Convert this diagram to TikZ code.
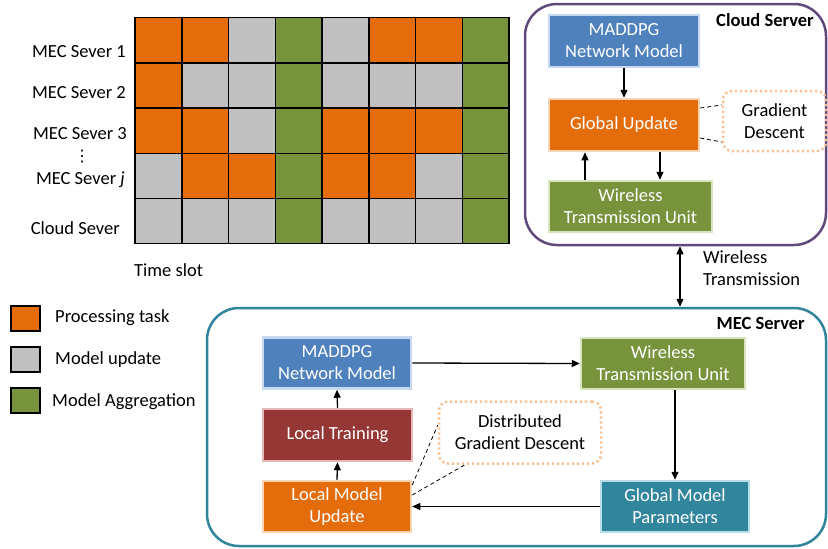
\documentclass[tikz,border=0pt]{standalone}
\usepackage{fontspec}
\setmainfont{Carlito}
\newfontfamily\dvfont{DejaVu Sans}
\usetikzlibrary{arrows.meta}
\definecolor{cO}{HTML}{E46C0A}
\definecolor{cG}{HTML}{C0C0C0}
\definecolor{cV}{HTML}{77933C}
\definecolor{orngl}{HTML}{FCD5B5}
\definecolor{grnl}{HTML}{D7E4BD}
\definecolor{blu}{HTML}{4F81BD}
\definecolor{blul}{HTML}{C6D9F1}
\definecolor{dred}{HTML}{953735}
\definecolor{dredl}{HTML}{E6B9B8}
\definecolor{tealc}{HTML}{31859C}
\definecolor{teall}{HTML}{B7DEE8}
\definecolor{purp}{HTML}{604A7B}
\definecolor{mecb}{HTML}{31849B}
\definecolor{dotc}{HTML}{FAC090}
\tikzset{
  box/.style 2 args={fill=#1, draw=#2, line width=2.5pt, text=white, align=center, inner sep=0pt},
  outerbox/.style={draw=#1, line width=2.5pt, rounded corners=32pt, inner sep=0pt},
  dotbox/.style={draw=dotc, line width=2.5pt, dash pattern=on 2.2pt off 2.8pt, rounded corners=9pt, align=center, inner sep=0pt, text=black},
  arr/.style={-{Triangle[length=8pt,width=7pt]}, line width=1.3pt},
  biarr/.style={{Triangle[length=8pt,width=7pt]}-{Triangle[length=8pt,width=7pt]}, line width=1.3pt},
  dashln/.style={line width=0.8pt, dash pattern=on 4pt off 3pt},
  lbl/.style={text height=13pt, text depth=4pt, inner sep=0pt},
  legsq/.style={draw=black, line width=1.2pt, minimum width=29pt, minimum height=25pt, inner sep=0pt},
  ttl/.style={font=\fontsize{18.5}{22}\selectfont\bfseries, inner sep=0pt, text height=13pt, text depth=4pt}
}
\begin{document}
\begin{tikzpicture}[x=1pt,y=-1pt, font=\fontsize{18.5}{22}\selectfont]
\useasboundingbox (0,0) rectangle (828,549);

% ---------- time-slot grid ----------
\foreach \row [count=\r from 0] in {{O,O,G,V,G,O,O,V},{O,G,G,V,G,G,G,V},{O,O,G,V,O,O,O,V},{G,O,O,V,O,O,G,V},{G,G,G,V,G,G,G,V}}{
  \foreach \c [count=\k from 0] in \row {
    \filldraw[fill=c\c, draw=black, line width=1.5pt] ({135+\k*46.75},{17.7+\r*45.2}) rectangle ({135+(\k+1)*46.75},{17.7+(\r+1)*45.2});
  }
}
\node[lbl, anchor=east] (l1) at (126,53) {MEC Sever 1};
\node[lbl, anchor=east] (l2) at (126,94) {MEC Sever 2};
\node[lbl, anchor=east] (l3) at (127,135) {MEC Sever 3};
\node[inner sep=0pt, font=\dvfont\fontsize{16}{16}\selectfont] (ldots) at (82,157) {⋮};
\node[lbl, anchor=east] (lj) at (125,180) {MEC Sever \textit{j}};
\node[lbl, anchor=east] (lc) at (120,230) {Cloud Sever};
\node[lbl, anchor=west] (ts) at (134,272) {Time slot};

% ---------- legend ----------
\node[legsq, fill=cO] (lg1) at (25.5,318.5) {};
\node[legsq, fill=cG] (lg2) at (25.5,359.5) {};
\node[legsq, fill=cV] (lg3) at (25.5,400.5) {};
\node[lbl, anchor=west] (lt1) at (55,318) {Processing task};
\node[lbl, anchor=west] (lt2) at (55,360) {Model update};
\node[lbl, anchor=west] (lt3) at (52,402) {Model Aggregation};

% ---------- cloud server ----------
\node[outerbox=purp, minimum width=301pt, minimum height=241pt] (cloud) at (675.5,124.5) {};
\node[ttl, anchor=east] (ctitle) at (814,22) {Cloud Server};
\node[box={blu}{blul}, minimum width=150pt, minimum height=52pt] (cmad) at (624,41) {MADDPG\\Network Model};
\node[box={cO}{orngl}, minimum width=150pt, minimum height=52pt] (cglob) at (624,125) {Global Update};
\node[box={cV}{grnl}, minimum width=163pt, minimum height=51pt] (cwtu) at (630.5,206.5) {Wireless\\Transmission Unit};
\node[dotbox, minimum width=103pt, minimum height=60pt] (cgd) at (774.5,121) {Gradient\\Descent};
\draw[arr] (cmad.south) -- (cglob.north);
\draw[arr] ([xshift=-45.5pt]cwtu.north) -- ([xshift=-39pt]cglob.south);
\draw[arr] ([xshift=36pt]cglob.south) -- ([xshift=29.5pt]cwtu.north);
\draw[dashln] ([yshift=17pt]cglob.east) -- ([yshift=16pt]cgd.west);
\draw[dashln] ([yshift=-13pt]cglob.east) -- ([yshift=-21pt]cgd.west);

% ---------- wireless link ----------
\node[outerbox=mecb, minimum width=619pt, minimum height=238pt] (mec) at (516.5,427) {};
\draw[biarr] ([xshift=4.5pt]cloud.south) -- ([xshift=163.5pt]mec.north);
\node[anchor=west, align=left, inner sep=0pt] (wt) at (703,268) {Wireless\\Transmission};

% ---------- MEC server ----------
\node[ttl, anchor=east] (mtitle) at (805,325) {MEC Server};
\node[box={blu}{blul}, minimum width=148pt, minimum height=51pt] (mmad) at (337,363) {MADDPG\\Network Model};
\node[box={cV}{grnl}, minimum width=164pt, minimum height=51pt] (mwtu) at (663,363.5) {Wireless\\Transmission Unit};
\node[box={dred}{dredl}, minimum width=149pt, minimum height=52pt] (mlt) at (337.5,435) {Local Training};
\node[box={cO}{orngl}, minimum width=148pt, minimum height=51pt] (mlmu) at (337,506.5) {Local Model\\Update};
\node[box={tealc}{teall}, minimum width=148pt, minimum height=51pt] (mgmp) at (675,506.5) {Global Model\\Parameters};
\node[dotbox, minimum width=162pt, minimum height=62pt] (mdgd) at (520,432.5) {Distributed\\Gradient Descent};
\draw[arr] (mmad.east) -- (mwtu.west);
\draw[arr] ([xshift=12pt]mwtu.south) -- (mgmp.north);
\draw[arr] (mgmp.west) -- (mlmu.east);
\draw[arr] (mlmu.north) -- (mlt.south);
\draw[arr] (mlt.north) -- (mmad.south);
\draw[dashln] ([yshift=21.5pt]mlmu.east) -- ([yshift=7.5pt]mdgd.west);
\draw[dashln] ([yshift=11.5pt]mlmu.east) -- ([xshift=-55pt]mdgd.south);
\end{tikzpicture}
\end{document}
